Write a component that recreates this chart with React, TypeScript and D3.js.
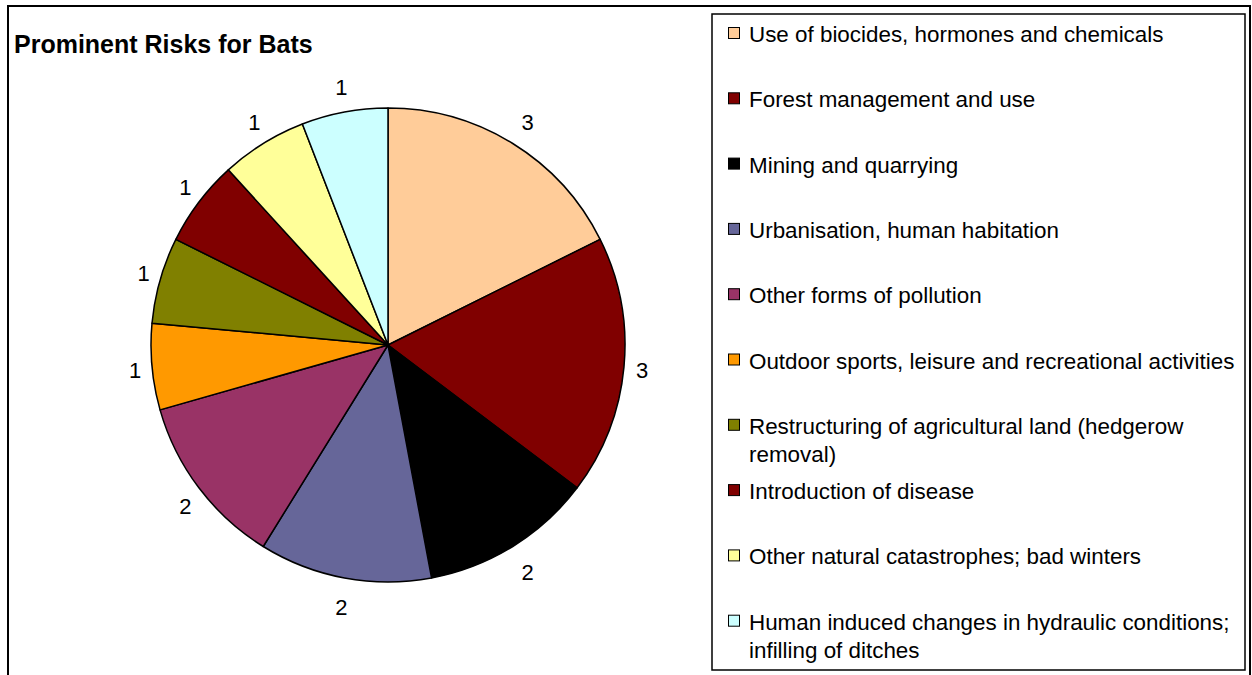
import React, { useEffect } from "react";
import * as d3 from "d3";

const categories = [
  "Use of biocides, hormones and chemicals",
  "Forest management and use",
  "Mining and quarrying",
  "Urbanisation, human habitation",
  "Other forms of pollution",
  "Outdoor sports, leisure and recreational activities",
  "Restructuring of agricultural land (hedgerow removal)",
  "Introduction of disease",
  "Other natural catastrophes; bad winters",
  "Human induced changes in hydraulic conditions; infilling of ditches",
];
const legendLines = [
  ["Use of biocides, hormones and chemicals"],
  ["Forest management and use"],
  ["Mining and quarrying"],
  ["Urbanisation, human habitation"],
  ["Other forms of pollution"],
  ["Outdoor sports, leisure and recreational activities"],
  ["Restructuring of agricultural land (hedgerow", "removal)"],
  ["Introduction of disease"],
  ["Other natural catastrophes; bad winters"],
  ["Human induced changes in hydraulic conditions;", "infilling of ditches"],
];
const values = [3, 3, 2, 2, 2, 1, 1, 1, 1, 1];
const colors = [
  "#FFCC99",
  "#800000",
  "#000000",
  "#666699",
  "#993366",
  "#FF9900",
  "#808000",
  "#800000",
  "#FFFF99",
  "#CCFFFF",
];
const title = "Prominent Risks for Bats";

const FONT = "'Liberation Sans', Arial, Helvetica, sans-serif";

export default function App() {
  useEffect(() => {
    document.body.style.margin = "0";
  }, []);

  const W = 1252;
  const H = 675;
  const cx = 388;
  const cy = 345;
  const R = 237;

  const pie = d3
    .pie<number>()
    .sort(null)
    .value((d) => d)
    .startAngle(0)
    .endAngle(2 * Math.PI);
  const arcs = pie(values);
  const arcGen = d3.arc<d3.PieArcDatum<number>>().innerRadius(0).outerRadius(R);

  const legendX = 712;
  const legendY = 14;
  const legendW = 533;
  const legendH = 656;
  const rowStep = 65.3;
  const firstBaseline = 42;

  return (
    <svg
      width={W}
      height={H}
      style={{ display: "block", background: "#fff" }}
      fontFamily={FONT}
    >
      <rect x={0} y={0} width={W} height={H} fill="#fff" />
      {/* outer chart border */}
      <rect x={8} y={6} width={1242} height={700} fill="none" stroke="#000" strokeWidth={2} />
      <text x={14} y={53} fontSize={25} fontWeight="bold" fill="#000">
        {title}
      </text>

      <g transform={`translate(${cx},${cy})`}>
        {arcs.map((a, i) => (
          <path
            key={i}
            d={arcGen(a) || ""}
            fill={colors[i]}
            stroke="#000"
            strokeWidth={1.5}
            strokeLinejoin="round"
          />
        ))}
        {arcs.map((a, i) => {
          const mid = (a.startAngle + a.endAngle) / 2;
          const s = Math.sin(mid);
          const c = Math.cos(mid);
          const x = (R + 17) * s + (s > 0 ? 13 * s * Math.abs(c) : 0);
          const y = -(c > 0 ? R + 25 : R + 30) * c;
          return (
            <text
              key={"l" + i}
              x={x}
              y={y}
              dy="0.36em"
              textAnchor="middle"
              fontSize={22}
              fill="#000"
            >
              {values[i]}
            </text>
          );
        })}
      </g>

      <rect
        x={legendX}
        y={legendY}
        width={legendW}
        height={legendH}
        fill="#fff"
        stroke="#000"
        strokeWidth={1.5}
      />
      {categories.map((cat, i) => {
        const by = firstBaseline + rowStep * i;
        return (
          <g key={cat}>
            <rect
              x={728.5}
              y={by - 14.5}
              width={11}
              height={11}
              fill={colors[i]}
              stroke="#000"
              strokeWidth={1}
            />
            {legendLines[i].map((ln, j) => (
              <text key={j} x={749} y={by + j * 28} fontSize={22.4} fill="#000">
                {ln}
              </text>
            ))}
          </g>
        );
      })}
    </svg>
  );
}
